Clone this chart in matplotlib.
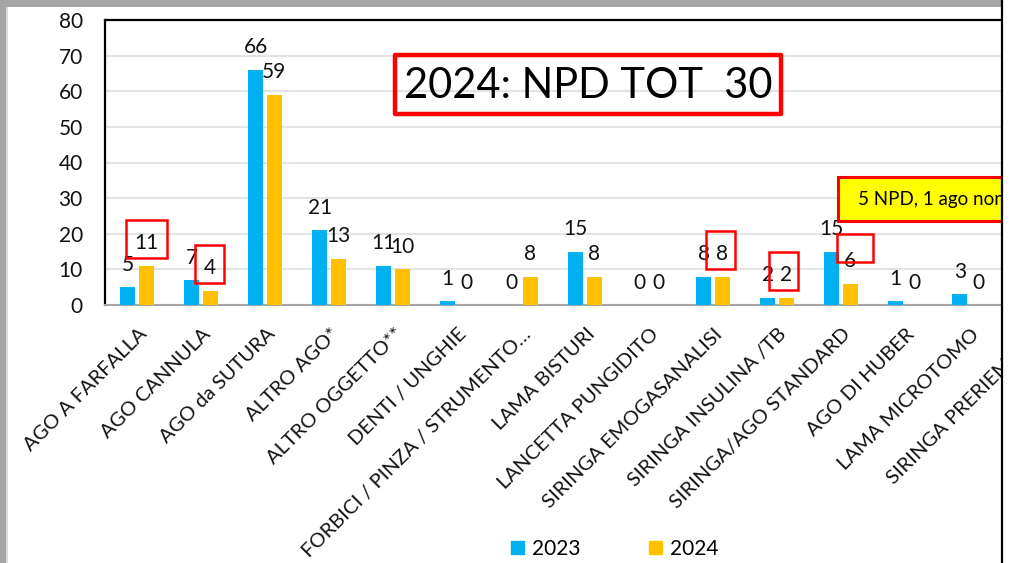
import numpy as np
import matplotlib
matplotlib.use("Agg")
import matplotlib.pyplot as plt
import matplotlib.transforms as mtransforms
from matplotlib.patches import Rectangle, Patch
from matplotlib.lines import Line2D

# ---------------------------------------------------------------- data
categories = ["AGO A FARFALLA", "AGO CANNULA", "AGO da SUTURA", "ALTRO AGO*",
              "ALTRO OGGETTO**", "DENTI / UNGHIE", "FORBICI / PINZA / STRUMENTO…",
              "LAMA BISTURI", "LANCETTA PUNGIDITO", "SIRINGA EMOGASANALISI",
              "SIRINGA INSULINA /TB", "SIRINGA/AGO STANDARD", "AGO DI HUBER",
              "LAMA MICROTOMO", "SIRINGA PRERIEMPITA"]
values_2023 = [5, 7, 66, 21, 11, 1, 0, 15, 0, 8, 2, 15, 1, 3, 0]
values_2024 = [11, 4, 59, 13, 10, 0, 8, 8, 0, 8, 2, 6, 0, 0, 0]
series_labels = ["2023", "2024"]
title_text = "2024: NPD TOT  30"
note_text = "5 NPD, 1 ago non conforme"

BLUE = "#00B0F0"
ORANGE = "#FFC000"
RED = "#FF0000"

W, H = 1014, 563
plt.rcParams["font.family"] = ["Lato", "DejaVu Sans"]

fig = plt.figure(figsize=(W / 100, H / 100), dpi=100)
fig.patch.set_facecolor("white")


def fx(x):
    return x / W


def fy(y):
    return 1 - y / H


def box(x0, y0, x1, y1, **kw):
    r = Rectangle((fx(x0), fy(y1)), (x1 - x0) / W, (y1 - y0) / H,
                  transform=fig.transFigure, **kw)
    fig.add_artist(r)
    return r


# axes runs past the right edge (the screenshot is cut there)
ax = fig.add_axes([fx(105), fy(305), 960 / W, (305 - 20) / H])
x = np.arange(len(categories))
bw = 0.23
off = 0.145
b1 = ax.bar(x - off, values_2023, bw, color=BLUE, zorder=3)
b2 = ax.bar(x + off, values_2024, bw, color=ORANGE, zorder=3)
ax.bar_label(b1, padding=9, fontsize=15, color="#111111")
ax.bar_label(b2, padding=9, fontsize=15, color="#111111")

ax.set_xlim(-0.5, len(categories) - 0.5)
ax.set_ylim(0, 80)
ax.set_yticks(range(0, 81, 10))
ax.yaxis.grid(True, color="#E3E3E3", lw=1.5, zorder=0)
ax.set_axisbelow(True)
ax.tick_params(axis="y", length=0, pad=16, labelsize=15, labelcolor="#111111")
ax.tick_params(axis="x", length=0, pad=19, labelsize=14.5, labelcolor="#111111")
ax.set_xticks(x)
ax.set_xticklabels(categories)
shift = mtransforms.ScaledTranslation(7 / 100, 0, fig.dpi_scale_trans)
for lab in ax.get_xticklabels():
    lab.set_rotation(45)
    lab.set_ha("right")
    lab.set_va("center")
    lab.set_rotation_mode("anchor")
    lab.set_transform(lab.get_transform() + shift)

ax.spines["right"].set_visible(False)
ax.spines["top"].set_color("black")
ax.spines["top"].set_linewidth(1.6)
ax.spines["left"].set_color("black")
ax.spines["left"].set_linewidth(1.6)
ax.spines["bottom"].set_color("#A6A6A6")
ax.spines["bottom"].set_linewidth(1.5)

# legend
handles = [Patch(color=BLUE, label=series_labels[0]),
           Patch(color=ORANGE, label=series_labels[1])]
fig.legend(handles=handles, loc="center", bbox_to_anchor=(fx(615), fy(549)),
           ncol=2, frameon=False, fontsize=15, handlelength=0.6,
           handleheight=0.6, handletextpad=0.4, columnspacing=3.3)

# title box
box(395, 55, 781, 114, fill=False, edgecolor=RED, lw=3.2, zorder=5,
    joinstyle="round")
fig.text(fx(588), fy(86), title_text, ha="center", va="center",
         fontsize=30, color="black", zorder=6)

# yellow note (cut off by the right edge)
box(838, 177, 1030, 221, facecolor="#FFFF00", edgecolor=RED, lw=2.2, zorder=5)
fig.text(fx(858), fy(200), note_text, ha="left", va="center", fontsize=13.5,
         color="black", zorder=6)

# small red highlight boxes
for (x0, y0, x1, y1) in [(126, 220, 167, 258), (195, 245, 224, 283),
                         (706, 231, 735, 269), (769, 252, 798, 290),
                         (837, 234, 873, 262)]:
    box(x0, y0, x1, y1, fill=False, edgecolor=RED, lw=1.8, zorder=5)

# screenshot edges: white strip right of the slide border, grey bands
box(1002, 0, W, H, facecolor="white", edgecolor="none", zorder=8)
fig.add_artist(Line2D([fx(1002), fx(1002)], [0, 1], color="black", lw=1.6,
                      transform=fig.transFigure, zorder=9))
box(0, 0, 1001, 7, facecolor="#A6A6A6", edgecolor="none", zorder=8)
box(0, 0, 6, H, facecolor="#A6A6A6", edgecolor="none", zorder=8)
box(6, 7, 8, H, facecolor="#D9D9D9", edgecolor="none", zorder=8)

fig.savefig("out.png", dpi=100)
